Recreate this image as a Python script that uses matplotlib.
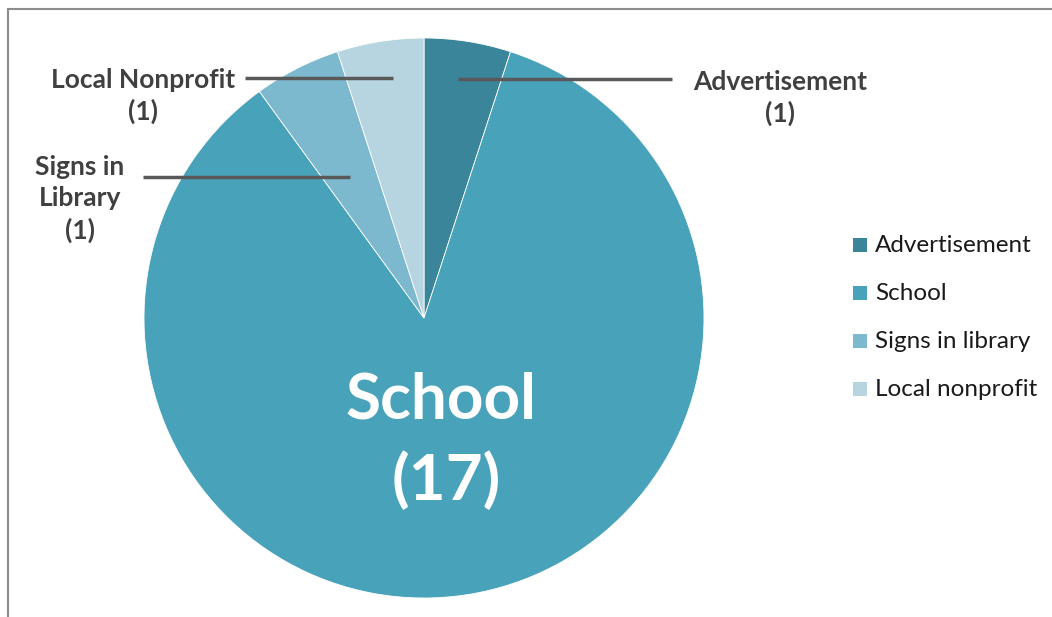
import matplotlib.pyplot as plt
from matplotlib.patches import Rectangle
from matplotlib.lines import Line2D

# Where participants heard about the program
categories = ["Advertisement", "School", "Signs in library", "Local nonprofit"]
counts = [1, 17, 1, 1]
callout_names = ["Advertisement", "School", "Signs in\nLibrary", "Local Nonprofit"]
colors = ["#3A8599", "#47A2BA", "#7CB9CF", "#B6D5E0"]

plt.rcParams['font.family'] = ['Lato', 'DejaVu Sans']

W, H = 1052, 617
fig = plt.figure(figsize=(W / 100, H / 100), dpi=100)
ax = fig.add_axes([0, 0, 1, 1])

# work in pixel units, y measured upward
cx, cy, r = 424, H - 318, 280
wedges, _ = ax.pie(counts, colors=colors, startangle=90, counterclock=False,
                   center=(cx, cy), radius=r,
                   wedgeprops=dict(edgecolor="white", linewidth=0.6))
ax.set_xlim(0, W)
ax.set_ylim(0, H)
ax.set_aspect('equal')
ax.axis('off')

# chart border (only top and left edges fall inside the frame)
ax.add_line(Line2D([8, W], [H - 9, H - 9], color="#8C8C8C", lw=1.5))
ax.add_line(Line2D([8, 8], [0, H - 9], color="#8C8C8C", lw=1.5))

lead = "#595959"
txt = "#404040"
# callouts for the small slices: (line x0, line x1, line y, text x, text y)
callouts = {
    0: (458, 672, 79, 780, 98),
    2: (143, 350, 177, 80, 199),
    3: (245, 393, 78, 143, 96),
}
for i, (x0, x1, ly, tx, ty) in callouts.items():
    ax.add_line(Line2D([x0, x1], [H - ly, H - ly], color=lead, lw=2.5,
                       solid_capstyle='butt'))
    ax.text(tx, H - ty, f"{callout_names[i]}\n({counts[i]})", ha='center', va='center',
            fontsize=19, fontweight='bold', color=txt, linespacing=1.35)

# big label inside the main slice
ax.text(441, H - 400, callout_names[1], ha='center', va='center',
        fontsize=46, fontweight='bold', color='white')
ax.text(446, H - 480, f"({counts[1]})", ha='center', va='center',
        fontsize=46, fontweight='bold', color='white')

# legend
for k, (name, c) in enumerate(zip(categories, colors)):
    y = H - (245 + 48 * k)
    ax.add_patch(Rectangle((853, y - 7), 14, 14, facecolor=c, edgecolor='none'))
    ax.text(875, y, name, ha='left', va='center', fontsize=17.5, color='#1A1A1A')

fig.savefig("out.png", dpi=100)
